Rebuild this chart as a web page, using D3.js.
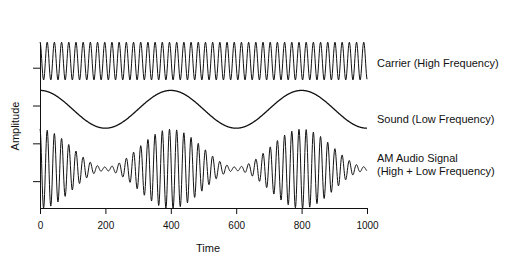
<!DOCTYPE html>
<html>
<head>
<meta charset="utf-8">
<script src="https://cdn.jsdelivr.net/npm/d3@7"></script>
<style>
body{margin:0;background:#fff}
text{font-family:"Liberation Sans",Arial,sans-serif;fill:#111}
</style>
</head>
<body>
<svg></svg>
<script>
var screen = {width:528,height:267}
var margins = {top:42,right:161,bottom:59,left:40}

//data
var timeTicks = [0,200,400,600,800,1000]
var ampTicks = [-2,0,2,4]
var timeRange = [0,1000]
var ampRange = [-3.42,5.36]
var signalNames = [["Carrier (High Frequency)"],["Sound (Low Frequency)"],["AM Audio Signal","(High + Low Frequency)"]]
var signalOffsets = [4.35,1.8,-1.35]   //where each wave is centred
var carrierPeriod = 22    //about 45 cycles over the run
var soundPeriod = 400     //peaks at 0, 400, 800
var amBias = 1.1          //envelope never quite reaches zero
var labelLevels = [4.22,1.27,-1.12]

var width = screen.width - margins.left - margins.right
var height = screen.height - margins.top - margins.bottom

var svg = d3.select("svg")
    .attr("width",screen.width)
    .attr("height",screen.height)

var xScale = d3.scaleLinear().domain(timeRange).range([0,width])
var yScale = d3.scaleLinear().domain(ampRange).range([height,0])

//the three signals, sampled once per time unit
var times = d3.range(timeRange[0],timeRange[1]+1,1)
var carrier = function(t){return Math.cos(2*Math.PI*t/carrierPeriod)}
var sound = function(t){return Math.cos(2*Math.PI*t/soundPeriod)}
var waves = [
    function(t){return carrier(t)},
    function(t){return sound(t)},
    function(t){return (amBias+sound(t))*carrier(t)}
]

var graph = svg.append("g")
    .attr("id","graph")
    .attr("transform","translate("+margins.left+","+margins.top+")")

var line = d3.line()

graph.selectAll(".wave")
    .data(waves)
    .enter()
    .append("path")
    .attr("class","wave")
    .attr("fill","none")
    .attr("stroke","#111")
    .attr("stroke-width",function(w,i){return i==1?1.3:1})
    .attr("d",function(w,i)
    {
        return line(times.map(function(t){return [xScale(t),yScale(signalOffsets[i]+w(t))]}))
    })

//axes
var xAxis = d3.axisBottom(xScale).tickValues(timeTicks).tickSize(6).tickSizeOuter(0).tickPadding(8).tickFormat(d3.format("d"))
var yAxis = d3.axisLeft(yScale).tickValues(ampTicks).tickSize(7).tickSizeOuter(0).tickFormat("")

graph.append("g")
    .attr("id","xAxis")
    .attr("transform","translate(0,"+height+")")
    .call(xAxis)
graph.append("g")
    .attr("id","yAxis")
    .call(yAxis)

svg.selectAll(".domain, .tick line").attr("stroke","#111")
svg.selectAll(".tick text").style("font-size","10px").style("font-family",null)

//labels to the right of each wave
var labels = graph.selectAll(".label")
    .data(signalNames)
    .enter()
    .append("text")
    .attr("class","label")
    .attr("y",function(d,i){return yScale(labelLevels[i]) - (d.length-1)*6.7})
    .style("font-size","11px")
labels.selectAll("tspan")
    .data(function(d){return d})
    .enter()
    .append("tspan")
    .attr("x",width+10)
    .attr("dy",function(d,i){return i==0?"0.35em":"13.4px"})
    .text(function(d){return d})

svg.append("text")
    .attr("x",208)
    .attr("y",248)
    .attr("dy","0.35em")
    .attr("text-anchor","middle")
    .style("font-size","11px")
    .text("Time")

svg.append("text")
    .attr("transform","translate(15,126) rotate(-90)")
    .attr("dy","0.35em")
    .attr("text-anchor","middle")
    .style("font-size","11px")
    .text("Amplitude")
</script>
</body>
</html>
